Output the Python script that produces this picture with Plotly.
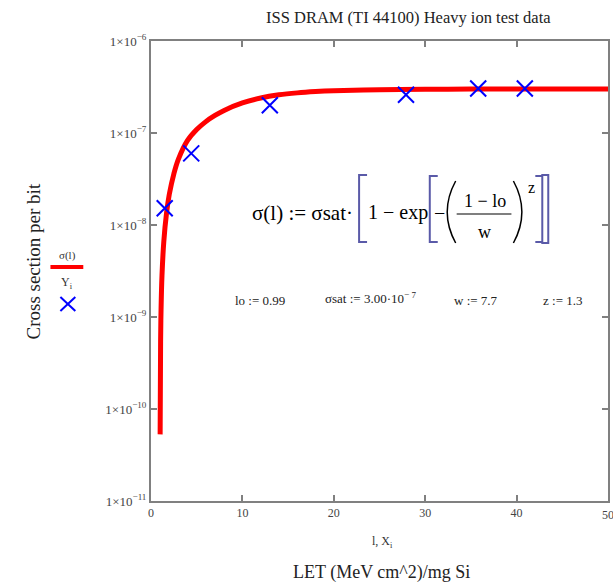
import plotly.graph_objects as go

# ---- data ----
curve_let = [1.0, 1.05, 1.1, 1.2, 1.4, 1.7, 2.0, 2.5, 3.0, 4.0, 5.0, 6.0, 7.0, 8.0,
             10.0, 12.0, 14.0, 16.0, 18.0, 20.0, 25.0, 30.0, 35.0, 40.0, 45.0, 50.0]
curve_sigma = [5.3e-11, 5.4e-10, 1.2e-9, 2.8e-9, 6.6e-9, 1.35e-8, 2.15e-8, 3.6e-8, 5.2e-8,
               8.3e-8, 1.09e-7, 1.33e-7, 1.55e-7, 1.76e-7, 2.12e-7, 2.4e-7, 2.6e-7,
               2.73e-7, 2.82e-7, 2.88e-7, 2.96e-7, 2.99e-7, 3.0e-7, 3.0e-7, 3.0e-7, 3.0e-7]
data_let = [1.5, 4.4, 13.0, 27.9, 35.8, 40.9]
data_sigma = [1.52e-8, 6.0e-8, 2.0e-7, 2.6e-7, 3.05e-7, 3.05e-7]
y_tick_vals = [1e-11, 1e-10, 1e-9, 1e-8, 1e-7, 1e-6]
y_tick_text = ["1×10<sup>−11</sup>", "1×10<sup>−10</sup>", "1×10<sup>−9</sup>",
               "1×10<sup>−8</sup>", "1×10<sup>−7</sup>", "1×10<sup>−6</sup>"]
x_tick_vals = [0, 10, 20, 30, 40, 50]

W, H = 613, 582
L, R, T, B = 151, 610, 41, 501
FONT = "Liberation Serif"
BR = "#5a5aa8"


def P(x, y):
    return (x - L) / (R - L), (B - y) / (B - T)


def path(points):
    s = ""
    for i, (x, y) in enumerate(points):
        px, py = P(x, y)
        s += ("M" if i == 0 else " L") + f" {px:.5f} {py:.5f}"
    return s


def qpath(p0, c, p1):
    a, b, d = P(*p0), P(*c), P(*p1)
    return f"M {a[0]:.5f} {a[1]:.5f} Q {b[0]:.5f} {b[1]:.5f} {d[0]:.5f} {d[1]:.5f}"


fig = go.Figure()
fig.add_trace(go.Scatter(x=curve_let, y=curve_sigma, mode="lines",
                         line=dict(color="#ff0000", width=5), name="σ(l)",
                         line_shape="spline"))
fig.add_trace(go.Scatter(x=data_let, y=data_sigma, mode="markers",
                         marker=dict(symbol="x-thin", size=16,
                                     line=dict(color="#0000ff", width=2)),
                         name="Y_i"))

annotations = []
shapes = []


def text(x, y, t, size, xanchor="center", color="#111", angle=0):
    px, py = P(x, y)
    annotations.append(dict(x=px, y=py, xref="paper", yref="paper", text=t,
                            showarrow=False, xanchor=xanchor, yanchor="middle",
                            textangle=angle,
                            font=dict(family=FONT, size=size, color=color)))


def line(pts, color, width):
    shapes.append(dict(type="path", path=path(pts), xref="paper", yref="paper",
                       line=dict(color=color, width=width)))


# title and axis labels
text(410, 18, "ISS DRAM (TI 44100) Heavy ion test data", 16.5, color="#222")
text(32, 262, "Cross section per bit", 19, angle=-90, color="#222")
text(384, 542, "l, X<sub>i</sub>", 12, color="#333")
text(383, 572, "LET (MeV cm^2)/mg Si", 18, color="#222")

# last x tick label (partly cut by the page edge, as in the reference)
annotations.append(dict(x=x_tick_vals[-1], y=P(0, 515)[1], xref="x", yref="paper",
                        text=str(x_tick_vals[-1]), showarrow=False, xanchor="center",
                        yanchor="middle", font=dict(family=FONT, size=12, color="#444")))

# legend
text(67, 255, "σ(l)", 11, color="#333")
line([(50, 267), (83, 267)], "#ff0000", 4)
text(67, 283, "Y<sub>i</sub>", 12, color="#333")
line([(60, 297), (75, 311)], "#0000ff", 2)
line([(60, 311), (75, 297)], "#0000ff", 2)

# formula
text(356, 213, "σ(l) := σsat·", 21, xanchor="right", color="#000")
text(367, 213, "1 − exp", 20, xanchor="left", color="#000")
text(441, 213, "−", 20, color="#000")
text(486, 201, "1 − lo", 18, color="#000")
text(486, 232, "w", 18, color="#000")
text(533, 187, "z", 16, color="#000")
line([(458, 214), (513, 214)], "#000", 1.2)
shapes.append(dict(type="path", path=qpath((457, 181), (440, 212), (457, 243)),
                   xref="paper", yref="paper", line=dict(color="#000", width=1.5)))
shapes.append(dict(type="path", path=qpath((515, 181), (532, 212), (515, 243)),
                   xref="paper", yref="paper", line=dict(color="#000", width=1.5)))
line([(368, 175), (360, 175), (360, 242), (368, 242)], BR, 2)
line([(439, 176), (431, 176), (431, 242), (439, 242)], BR, 2)
line([(537, 176), (544, 176), (544, 242), (537, 242)], BR, 2)
line([(543, 175), (550, 175), (550, 243), (543, 243)], BR, 2)

# parameters
text(260, 300, "lo := 0.99", 13, color="#222")
text(371, 298, "σsat := 3.00·10<sup>− 7</sup>", 13, color="#222")
text(477, 300, "w := 7.7", 13, color="#222")
text(564, 300, "z := 1.3", 13, color="#222")

axis_common = dict(showline=True, linecolor="#808080", linewidth=2, mirror="ticks",
                   ticks="inside", ticklen=6, tickwidth=1.5, tickcolor="#808080",
                   showgrid=False, zeroline=False)

fig.update_layout(
    width=W, height=H,
    margin=dict(l=L, r=W - R, t=T, b=H - B),
    paper_bgcolor="white", plot_bgcolor="white",
    showlegend=False,
    xaxis=dict(range=[0, 50], tickvals=x_tick_vals,
               tickfont=dict(family=FONT, size=12, color="#444"), **axis_common),
    yaxis=dict(type="log", range=[-11, -6], tickvals=y_tick_vals,
               ticktext=y_tick_text,
               tickfont=dict(family=FONT, size=13, color="#444"), **axis_common),
    annotations=annotations,
    shapes=shapes,
)

fig.write_html("out.html", config={"displayModeBar": False},
               post_script="document.body.style.margin='0';document.body.style.overflow='hidden';")
